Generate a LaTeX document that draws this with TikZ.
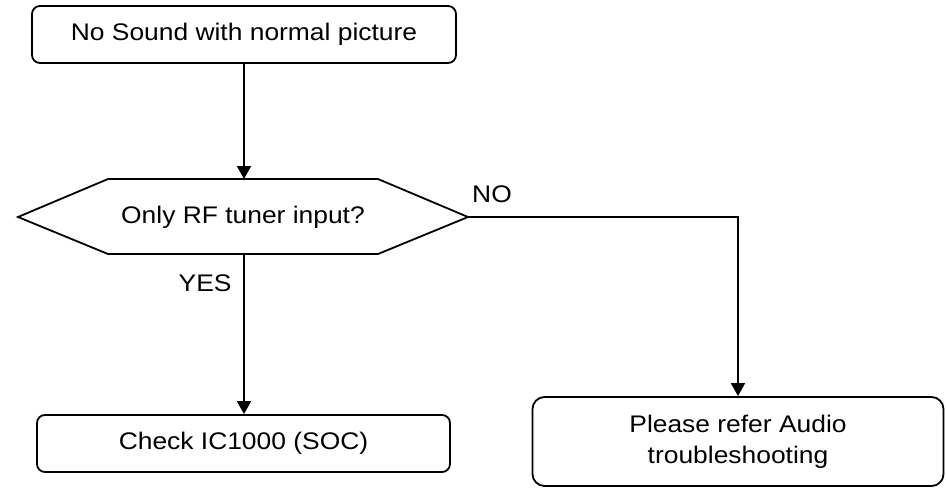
\documentclass[tikz,border=0pt]{standalone}
\usepackage{fontspec}
\setmainfont{Liberation Sans}[FakeStretch=1.1]
\usetikzlibrary{arrows.meta}

\tikzset{
  box/.style={draw,line width=1.8pt,rounded corners=8pt,align=center,
    font=\fontsize{24}{31}\selectfont},
  flow/.style={line width=1.8pt,-{Triangle[length=13pt,width=14pt]}},
  lbl/.style={font=\fontsize{24}{28}\selectfont}
}

\begin{document}
\begin{tikzpicture}[x=1pt,y=-1pt]
\useasboundingbox (0,0) rectangle (946,488);
\node[box,minimum width=424pt,minimum height=57pt] (start) at (244,34.5) {No Sound with normal picture};
\coordinate (HL) at (18,217);
\coordinate (HTL) at (108,179);
\coordinate (HTR) at (378,179);
\coordinate (HR) at (468,217);
\coordinate (HBR) at (378,254);
\coordinate (HBL) at (108,254);
\coordinate (HT) at (244,179);
\coordinate (HB) at (244,254);
\draw[line width=1.8pt,line join=miter] (HL)--(HTL)--(HTR)--(HR)--(HBR)--(HBL)--cycle;
\node[lbl] (ask) at (243,217) {Only RF tuner input?};
\node[box,minimum width=413pt,minimum height=57pt] (check) at (243.5,443.5) {Check IC1000 (SOC)};
\node[box,rounded corners=12pt,minimum width=411pt,minimum height=89pt] (refer) at (738,441.5) {Please refer Audio\\troubleshooting};
\draw[flow] (start.south-|HT)--(HT);
\draw[flow] (HB)--(check.north-|HB);
\draw[flow] (HR)-|(refer.north);
\node[lbl,anchor=east] (yes) at (235,283) {YES};
\node[lbl] (no) at (492,194) {NO};
\end{tikzpicture}
\end{document}
